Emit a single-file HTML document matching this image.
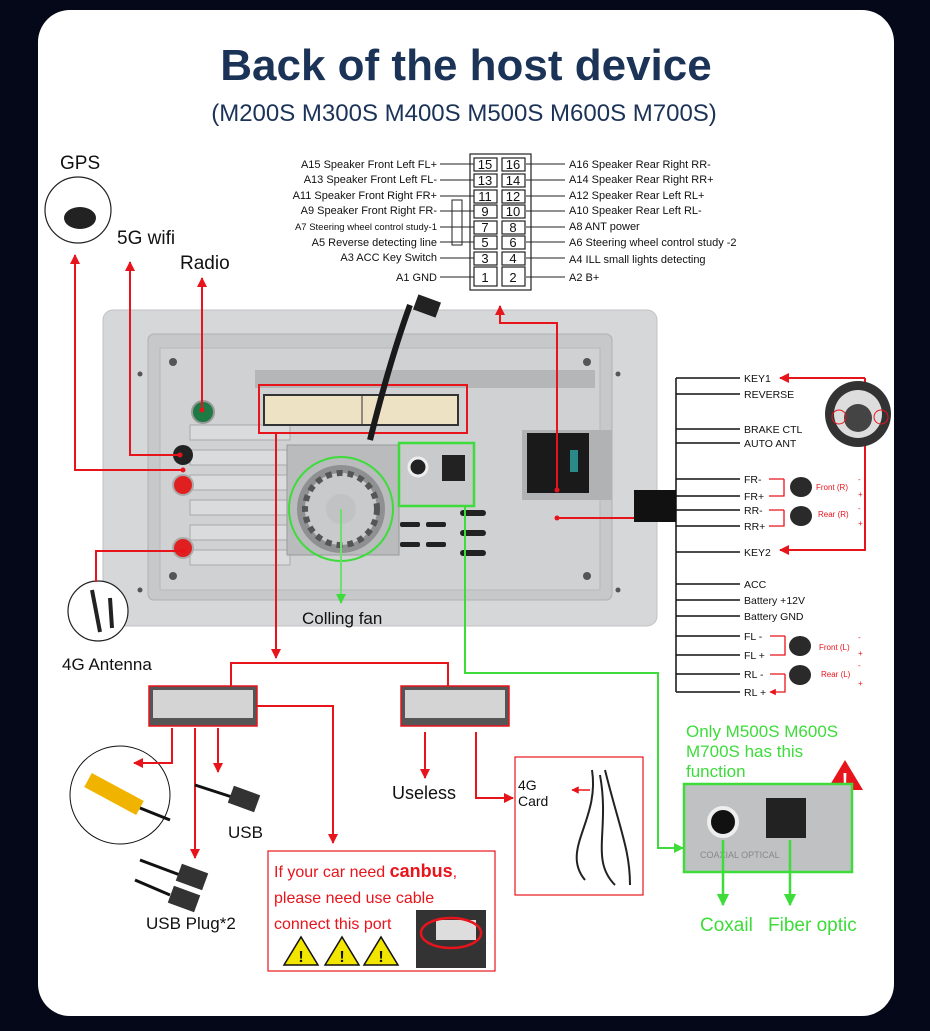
<!DOCTYPE html>
<html><head><meta charset="utf-8"><style>
html,body{margin:0;padding:0;background:#050818;}
svg{display:block;font-family:"Liberation Sans",Arial,sans-serif;}
</style></head><body>
<svg width="930" height="1031" viewBox="0 0 930 1031" xmlns="http://www.w3.org/2000/svg">
<defs>
<marker id="ar" viewBox="0 0 10 10" refX="9" refY="5" markerWidth="5" markerHeight="5" orient="auto-start-reverse"><path d="M0,0 L10,5 L0,10 z" fill="#e8141c"/></marker>
<marker id="ag" viewBox="0 0 10 10" refX="9" refY="5" markerWidth="5" markerHeight="5" orient="auto-start-reverse"><path d="M0,0 L10,5 L0,10 z" fill="#3ddc3a"/></marker>
</defs>
<rect x="0" y="0" width="930" height="1031" fill="#050818"/>
<rect x="38" y="10" width="856" height="1006" rx="32" fill="#ffffff"/>
<text x="466" y="80" text-anchor="middle" font-size="44" font-weight="bold" fill="#1c3358">Back of the host device</text>
<text x="464" y="121" text-anchor="middle" font-size="24" fill="#1c3358">(M200S M300S M400S M500S M600S M700S)</text>

<!-- top connector pinout -->
<g font-size="11" fill="#111">
<rect x="470" y="154" width="61" height="136" fill="#fff" stroke="#222" stroke-width="1.2"/>
<g stroke="#222" stroke-width="1.2" fill="#fff">
<rect x="474" y="158" width="23" height="13"/><rect x="502" y="158" width="23" height="13"/>
<rect x="474" y="174" width="23" height="13"/><rect x="502" y="174" width="23" height="13"/>
<rect x="474" y="190" width="23" height="13"/><rect x="502" y="190" width="23" height="13"/>
<rect x="474" y="205" width="23" height="13"/><rect x="502" y="205" width="23" height="13"/>
<rect x="474" y="221" width="23" height="13"/><rect x="502" y="221" width="23" height="13"/>
<rect x="474" y="236" width="23" height="13"/><rect x="502" y="236" width="23" height="13"/>
<rect x="474" y="252" width="23" height="13"/><rect x="502" y="252" width="23" height="13"/>
<rect x="474" y="267" width="23" height="19"/><rect x="502" y="267" width="23" height="19"/>
</g>
<g font-size="13" text-anchor="middle">
<text x="485" y="169">15</text><text x="513" y="169">16</text>
<text x="485" y="185">13</text><text x="513" y="185">14</text>
<text x="485" y="201">11</text><text x="513" y="201">12</text>
<text x="485" y="216">9</text><text x="513" y="216">10</text>
<text x="485" y="232">7</text><text x="513" y="232">8</text>
<text x="485" y="247">5</text><text x="513" y="247">6</text>
<text x="485" y="263">3</text><text x="513" y="263">4</text>
<text x="485" y="282">1</text><text x="513" y="282">2</text>
</g>
<g stroke="#222" stroke-width="1">
<path d="M440 164H474M440 180H474M440 196H474M440 211H474M440 227H474M440 242H474M440 258H474M440 277H474"/>
<path d="M526 164H565M526 180H565M526 196H565M526 211H565M526 227H565M526 242H565M526 258H565M526 277H565"/>
<path d="M452 200V245H462V200Z" fill="none"/>
</g>
<g text-anchor="end">
<text x="437" y="168">A15  Speaker Front Left FL+</text>
<text x="437" y="183">A13  Speaker Front Left FL-</text>
<text x="437" y="199">A11  Speaker Front Right FR+</text>
<text x="437" y="214">A9    Speaker Front Right FR-</text>
<text x="437" y="230" font-size="9.5">A7    Steering wheel control study-1</text>
<text x="437" y="246">A5    Reverse detecting line</text>
<text x="437" y="261">A3 ACC Key Switch</text>
<text x="437" y="281">A1 GND</text>
</g>
<text x="569" y="168">A16 Speaker Rear Right RR-</text>
<text x="569" y="183">A14 Speaker Rear Right RR+</text>
<text x="569" y="199">A12 Speaker Rear Left RL+</text>
<text x="569" y="214">A10 Speaker Rear Left RL-</text>
<text x="569" y="230">A8   ANT power</text>
<text x="569" y="246">A6   Steering wheel control study -2</text>
<text x="569" y="263">A4   ILL small lights detecting</text>
<text x="569" y="281">A2   B+</text>
</g>

<!-- device -->
<rect x="103" y="310" width="554" height="316" rx="10" fill="#d5d7d9" stroke="#c0c2c4"/>
<rect x="148" y="334" width="464" height="266" rx="6" fill="#c6c8ca" stroke="#aeb0b2"/>
<rect x="160" y="348" width="440" height="242" fill="#cfd1d3" stroke="#b5b7b9"/>
<g fill="#b4b6b8"><rect x="255" y="370" width="340" height="18"/></g>
<g fill="#d9dbdd" stroke="#aaa"><path d="M190 425 H290 V440 H190 Z M190 450 H290 V465 H190 Z M190 475 H290 V490 H190 Z M190 500 H290 V515 H190 Z M190 525 H290 V540 H190 Z M190 550 H290 V565 H190Z"/></g>
<rect x="264" y="395" width="194" height="30" fill="#eee2c4" stroke="#333" stroke-width="2"/>
<line x1="362" y1="395" x2="362" y2="425" stroke="#333"/>
<rect x="259" y="385" width="208" height="48" fill="none" stroke="#e8141c" stroke-width="2"/>
<rect x="287" y="445" width="112" height="110" fill="#b9bbbd" stroke="#999"/>
<circle cx="341" cy="509" r="44" fill="#8e9092"/>
<circle cx="341" cy="509" r="36" fill="#c8cacc" stroke="#555" stroke-width="6" stroke-dasharray="6 5"/>
<circle cx="341" cy="509" r="15" fill="#c0c2c4"/>
<circle cx="341" cy="509" r="52" fill="none" stroke="#3ddc3a" stroke-width="2"/>
<rect x="399" y="443" width="75" height="63" fill="#c8cacc" stroke="#3ddc3a" stroke-width="2.5"/>
<circle cx="418" cy="467" r="9" fill="#222" stroke="#eee" stroke-width="3"/>
<rect x="442" y="455" width="23" height="26" fill="#222"/>
<g fill="#222"><rect x="400" y="522" width="20" height="5" rx="2"/><rect x="426" y="522" width="20" height="5" rx="2"/><rect x="400" y="542" width="20" height="5" rx="2"/><rect x="426" y="542" width="20" height="5" rx="2"/><rect x="460" y="510" width="26" height="6" rx="3"/><rect x="460" y="530" width="26" height="6" rx="3"/><rect x="460" y="550" width="26" height="6" rx="3"/></g>
<rect x="522" y="430" width="90" height="70" fill="#b0b2b4"/>
<rect x="527" y="433" width="62" height="60" fill="#1a1a1a"/>
<rect x="570" y="450" width="8" height="22" fill="#2a8a8a"/>
<path d="M410 305 Q390 360 370 440" stroke="#1a1a1a" stroke-width="6" fill="none"/>
<rect x="415" y="298" width="24" height="16" fill="#222" transform="rotate(20 427 306)"/>
<circle cx="203" cy="412" r="11" fill="#1e7a44" stroke="#999" stroke-width="2"/>
<circle cx="183" cy="455" r="10" fill="#222"/>
<circle cx="183" cy="485" r="10" fill="#e02020" stroke="#aaa" stroke-width="2"/>
<circle cx="183" cy="548" r="10" fill="#e02020" stroke="#aaa" stroke-width="2"/>
<g fill="#555"><circle cx="173" cy="362" r="4"/><circle cx="587" cy="362" r="4"/><circle cx="173" cy="576" r="4"/><circle cx="587" cy="576" r="4"/><circle cx="140" cy="374" r="2.5"/><circle cx="618" cy="374" r="2.5"/><circle cx="140" cy="590" r="2.5"/><circle cx="618" cy="590" r="2.5"/></g>
<line x1="341" y1="509" x2="341" y2="603" stroke="#6be06a" stroke-width="2" marker-end="url(#ag)"/>
<text x="302" y="624" font-size="17" fill="#111">Colling fan</text>

<!-- left labels -->
<g font-size="19" fill="#111">
<text x="60" y="169">GPS</text>
<text x="117" y="244">5G wifi</text>
<text x="180" y="269">Radio</text>
<text x="62" y="670" font-size="17">4G Antenna</text>
</g>
<circle cx="78" cy="210" r="33" fill="#fff" stroke="#222" stroke-width="1.2"/>
<ellipse cx="80" cy="218" rx="16" ry="11" fill="#222"/>
<circle cx="98" cy="611" r="30" fill="#fff" stroke="#222" stroke-width="1.2"/>
<path d="M92 590 L100 632 M110 598 L112 628" stroke="#222" stroke-width="4"/>

<!-- RCA -->
<ellipse cx="120" cy="795" rx="50" ry="49" fill="#fff" stroke="#111"/>
<path d="M88 780 L140 808" stroke="#f0b400" stroke-width="16"/>
<path d="M140 808 L170 820" stroke="#111" stroke-width="3"/>

<g stroke="#e8141c" stroke-width="2" fill="none">
<path d="M183 470 H75 V255" marker-end="url(#ar)"/>
<path d="M180 455 H130 V262" marker-end="url(#ar)"/>
<path d="M202 410 V278" marker-end="url(#ar)"/>
<path d="M183 551 H96 V582"/>
<path d="M557 490 V323 H500 V306" marker-end="url(#ar)"/>
<path d="M557 518 H634"/>
<path d="M276 433 V658" marker-end="url(#ar)"/>
<path d="M231 686 V663 H448 V686"/>
<path d="M172 728 V763 H134" marker-end="url(#ar)"/>
<path d="M195 728 V858" marker-end="url(#ar)"/>
<path d="M218 728 V772" marker-end="url(#ar)"/>
<path d="M250 706 H333 V843" marker-end="url(#ar)"/>
<path d="M425 732 V778" marker-end="url(#ar)"/>
<path d="M476 732 V798 H513" marker-end="url(#ar)"/>
<path d="M865 378 V550 H780" marker-end="url(#ar)"/>
<path d="M865 378 H780" marker-end="url(#ar)"/>
</g>
<g fill="#e8141c"><circle cx="183" cy="470" r="2.5"/><circle cx="180" cy="455" r="2.5"/><circle cx="202" cy="410" r="2.5"/><circle cx="183" cy="551" r="2.5"/><circle cx="557" cy="490" r="2.5"/><circle cx="557" cy="518" r="2.5"/></g>

<!-- harness connector -->
<rect x="634" y="490" width="42" height="32" fill="#111"/>
<path d="M676 378 V692" stroke="#111" stroke-width="1.5"/>
<g stroke="#111" stroke-width="1.5"><path d="M676 378H740M676 394H740M676 429H740M676 443H740M676 479H740M676 496H740M676 510H740M676 526H740M676 552H740M676 584H740M676 600H740M676 616H740M676 636H740M676 655H740M676 674H740M676 692H740"/></g>
<g font-size="10.5" fill="#111">
<text x="744" y="382">KEY1</text><text x="744" y="398">REVERSE</text><text x="744" y="433">BRAKE CTL</text><text x="744" y="447">AUTO ANT</text>
<text x="744" y="483">FR-</text><text x="744" y="500">FR+</text><text x="744" y="514">RR-</text><text x="744" y="530">RR+</text>
<text x="744" y="556">KEY2</text><text x="744" y="588">ACC</text><text x="744" y="604">Battery +12V</text><text x="744" y="620">Battery GND</text>
<text x="744" y="640">FL -</text><text x="744" y="659">FL +</text><text x="744" y="678">RL -</text><text x="744" y="696">RL +</text>
</g>
<g stroke="#e8141c" stroke-width="1.3" fill="none">
<path d="M784 479H769M784 479V496H769M784 510H769M784 510V526H769M785 636H770M785 636V655H770M785 674H770M785 674V692H770" marker-end="url(#ar)"/>
</g>
<g fill="#2a2a2a"><ellipse cx="801" cy="487" rx="11" ry="10"/><ellipse cx="801" cy="516" rx="11" ry="10"/><ellipse cx="800" cy="646" rx="11" ry="10"/><ellipse cx="800" cy="675" rx="11" ry="10"/></g>
<g font-size="8" fill="#e8141c"><text x="816" y="490">Front (R)</text><text x="818" y="517">Rear (R)</text><text x="819" y="650">Front (L)</text><text x="821" y="677">Rear (L)</text>
<text x="858" y="482">-</text><text x="858" y="497">+</text><text x="858" y="511">-</text><text x="858" y="526">+</text><text x="858" y="640">-</text><text x="858" y="656">+</text><text x="858" y="668">-</text><text x="858" y="686">+</text></g>
<circle cx="858" cy="414" r="33" fill="#333"/><circle cx="858" cy="414" r="24" fill="#ddd"/><circle cx="858" cy="418" r="14" fill="#444"/>
<circle cx="839" cy="417" r="7" fill="none" stroke="#e8141c"/><circle cx="881" cy="417" r="7" fill="none" stroke="#e8141c"/>

<!-- lower connectors -->
<rect x="149" y="686" width="108" height="40" fill="#555" stroke="#e8141c" stroke-width="1.5"/>
<rect x="153" y="690" width="100" height="28" fill="#d4d4d4"/>
<rect x="401" y="686" width="108" height="40" fill="#555" stroke="#e8141c" stroke-width="1.5"/>
<rect x="405" y="690" width="100" height="28" fill="#d4d4d4"/>
<text x="392" y="799" font-size="18" fill="#111">Useless</text>
<text x="228" y="838" font-size="17" fill="#111">USB</text>
<text x="146" y="929" font-size="17" fill="#111">USB Plug*2</text>
<path d="M195 785 L235 798 M140 860 L180 875 M135 880 L170 895" stroke="#111" stroke-width="3"/>
<rect x="230" y="790" width="28" height="18" fill="#333" transform="rotate(20 244 799)"/>
<rect x="178" y="868" width="28" height="18" fill="#333" transform="rotate(20 192 877)"/>
<rect x="170" y="890" width="28" height="18" fill="#333" transform="rotate(20 184 899)"/>

<rect x="268" y="851" width="227" height="120" fill="#fff" stroke="#e8141c" stroke-width="1.2"/>
<text x="274" y="877" font-size="16" fill="#e8141c">If your car need <tspan font-weight="bold" font-size="18">canbus</tspan>,</text>
<text x="274" y="903" font-size="16" fill="#e8141c">please need use cable</text>
<text x="274" y="929" font-size="16" fill="#e8141c">connect this port</text>
<g fill="#f2e600" stroke="#111" stroke-width="1.5"><path d="M284 965 L301 937 L318 965Z M325 965 L342 937 L359 965Z M364 965 L381 937 L398 965Z"/></g>
<g font-size="16" font-weight="bold" fill="#111" text-anchor="middle"><text x="301" y="962">!</text><text x="342" y="962">!</text><text x="381" y="962">!</text></g>
<rect x="416" y="910" width="70" height="58" fill="#333"/>
<rect x="436" y="920" width="40" height="20" fill="#ddd"/>
<ellipse cx="451" cy="933" rx="30" ry="15" fill="none" stroke="#e8141c" stroke-width="2.5"/>

<rect x="515" y="757" width="128" height="138" fill="#fff" stroke="#e8141c" stroke-width="1.2"/>
<text x="518" y="790" font-size="14" fill="#111">4G</text><text x="518" y="806" font-size="14" fill="#111">Card</text>
<path d="M590 790 H572" stroke="#e8141c" stroke-width="1.5" marker-end="url(#ar)"/>
<path d="M592 770 C600 820 560 850 585 880 M600 775 C610 830 590 860 615 885 M605 770 C620 830 630 850 630 885" stroke="#222" stroke-width="2" fill="none"/>

<!-- green -->
<path d="M465 506 V673 H658 V848 H683" stroke="#3ddc3a" stroke-width="2" fill="none" marker-end="url(#ag)"/>
<g font-size="17" fill="#3ddc3a"><text x="686" y="737">Only M500S M600S</text><text x="686" y="757">M700S has this</text><text x="686" y="777">function</text></g>
<path d="M827 790 L845 760 L863 790Z" fill="#e8141c"/>
<text x="845" y="787" text-anchor="middle" font-size="20" font-weight="bold" fill="#fff">!</text>
<rect x="684" y="784" width="168" height="88" fill="#bfc1c3" stroke="#3ddc3a" stroke-width="2.5"/>
<circle cx="723" cy="822" r="14" fill="#111" stroke="#eee" stroke-width="4"/>
<rect x="766" y="798" width="40" height="40" fill="#222"/>
<text x="700" y="858" font-size="9" fill="#888">COAXIAL  OPTICAL</text>
<g stroke="#3ddc3a" stroke-width="2.5"><path d="M723 840 V905" marker-end="url(#ag)"/><path d="M790 840 V905" marker-end="url(#ag)"/></g>
<g font-size="19" fill="#3ddc3a"><text x="700" y="931">Coxail</text><text x="768" y="931">Fiber optic</text></g>
</svg>
</body></html>
